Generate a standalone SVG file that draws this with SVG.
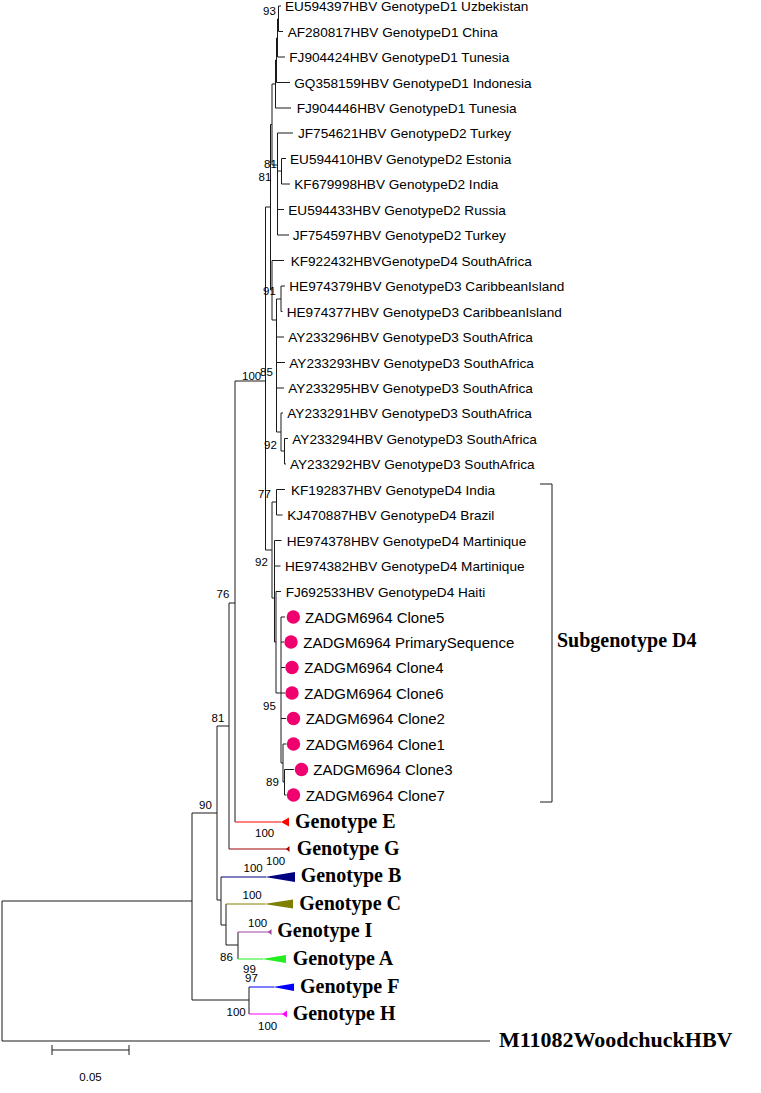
<svg xmlns="http://www.w3.org/2000/svg" width="761" height="1093" viewBox="0 0 761 1093">
<style>
.br{fill:none;stroke:#1a1a1a;stroke-width:1}
.lf{font-family:"Liberation Sans",Arial,sans-serif;font-size:13.6px;fill:#000}
.cl{font-family:"Liberation Sans",Arial,sans-serif;font-size:15px;fill:#000}
.bs{font-family:"Liberation Sans",Arial,sans-serif;font-size:11.5px;fill:#000}
.gt{font-family:"Liberation Serif","Times New Roman",serif;font-size:20px;font-weight:bold;fill:#000}
.dot{fill:#f0006e}
</style>
<rect width="761" height="1093" fill="#fff"/>
<g id="connectors">
<path class="br" d="M2 901V1041M2 901H192M2 1041H490M192 813V1000M192 813H217M192 1000H249M217 726V900M217 726H229M217 900H221M229 603V849M229 603H235M235 381V822M235 381H265.5M221 877V925M221 925H226M226 904V945M226 945H238M238 932V959M249 987V1014"/>
<path class="br" d="M265.5 207V550M265.5 207H270.5M270.5 124.5V290M270.5 124.5H272M272 84V165M272 84H275.5M275.5 60V108M275.5 60H276.5M276.5 38V82.5M276.5 38H277.5M277.5 19V57M277.5 19H278.5M278.5 6V31.5M278.5 6H281M278.5 31.5H283M277.5 57H285M276.5 82.5H290M275.5 108H291"/>
<path class="br" d="M272 165H277.5M277.5 133V235M277.5 133H293M277.5 171H281.5M281.5 158.5V184M281.5 158.5H286M281.5 184H290M277.5 209.5H284M277.5 235H289"/>
<path class="br" d="M270.5 290H272M272 260.5V320M272 260.5H284M272 320H276.5M276.5 299V432M276.5 299H281M281 286V311.5M281 286H285M281 311.5H282.5M276.5 337H284M276.5 362.5H285M276.5 388H284M276.5 432H281M281 413V451M281 413H283M281 451H284.5M284.5 438.5V464M284.5 438.5H288M284.5 464H286"/>
<path class="br" d="M265.5 550H272M272 502V598M272 502H276.5M276.5 489.5V515M276.5 489.5H285M276.5 515H282.5M272 598H274.5M274.5 540.5V642M274.5 540.5H281.5M274.5 566H280.5M274.5 642H276M276 591.5V693M276 591.5H281M276 693H281"/>
<path class="br" d="M281 617V763M281 617H285M281 642H284M281 667.5H285M281 693H285M281 718.5H286M281 763H283M283 744V782M283 744H286.5M283 782H284.5M284.5 769.5V795M284.5 769.5H294M284.5 795H286.5"/>
<path fill="none" stroke="#ff0000" d="M235 822H281"/>
<path fill="none" stroke="#a00000" d="M229 849H287"/>
<path fill="none" stroke="#000080" d="M221 877H266"/>
<path fill="none" stroke="#808000" d="M226 904H265"/>
<path fill="none" stroke="#a040a0" d="M238 932H269"/>
<path fill="none" stroke="#22ee22" d="M238 959H263"/>
<path fill="none" stroke="#0000ff" d="M249 987H274"/>
<path fill="none" stroke="#ff00ff" d="M249 1014H283"/>
<path class="br" d="M540 484H552V802H540"/>
<path class="br" d="M52 1050H129M52 1045V1055M129 1045V1055"/>
</g>
<g id="bootstrap">
<text class="bs" x="263" y="15">93</text>
<text class="bs" x="264" y="168">81</text>
<text class="bs" x="258.5" y="181">81</text>
<text class="bs" x="263" y="295">91</text>
<text class="bs" x="242" y="380">100</text>
<text class="bs" x="260" y="376">85</text>
<text class="bs" x="264" y="449">92</text>
<text class="bs" x="258" y="498">77</text>
<text class="bs" x="255" y="566">92</text>
<text class="bs" x="263" y="710">95</text>
<text class="bs" x="266" y="786">89</text>
<text class="bs" x="216.5" y="598">76</text>
<text class="bs" x="211.5" y="722">81</text>
<text class="bs" x="199" y="809">90</text>
<text class="bs" x="255" y="837">100</text>
<text class="bs" x="266" y="865">100</text>
<text class="bs" x="243.5" y="872">100</text>
<text class="bs" x="242.5" y="899">100</text>
<text class="bs" x="248" y="927">100</text>
<text class="bs" x="220" y="961">86</text>
<text class="bs" x="243" y="973">99</text>
<text class="bs" x="245" y="982">97</text>
<text class="bs" x="226.5" y="1015.5">100</text>
<text class="bs" x="258" y="1030">100</text>
</g>
<g id="n1"><text class="lf" x="285" y="11">EU594397HBV GenotypeD1 Uzbekistan</text></g>
<g id="n2"><text class="lf" x="287.7" y="36.5">AF280817HBV GenotypeD1 China</text></g>
<g id="n3"><text class="lf" x="289.3" y="62">FJ904424HBV GenotypeD1 Tunesia</text></g>
<g id="n4"><text class="lf" x="294.3" y="87.5">GQ358159HBV GenotypeD1 Indonesia</text></g>
<g id="n5"><text class="lf" x="296.7" y="113">FJ904446HBV GenotypeD1 Tunesia</text></g>
<g id="n6"><text class="lf" x="298" y="138">JF754621HBV GenotypeD2 Turkey</text></g>
<g id="n7"><text class="lf" x="290" y="163.5">EU594410HBV GenotypeD2 Estonia</text></g>
<g id="n8"><text class="lf" x="294.3" y="189">KF679998HBV GenotypeD2 India</text></g>
<g id="n9"><text class="lf" x="288.3" y="214.5">EU594433HBV GenotypeD2 Russia</text></g>
<g id="n10"><text class="lf" x="292.7" y="240">JF754597HBV GenotypeD2 Turkey</text></g>
<g id="n11"><text class="lf" x="290.7" y="265.5">KF922432HBVGenotypeD4 SouthAfrica</text></g>
<g id="n12"><text class="lf" x="289.3" y="291">HE974379HBV GenotypeD3 CaribbeanIsland</text></g>
<g id="n13"><text class="lf" x="286.7" y="316.5">HE974377HBV GenotypeD3 CaribbeanIsland</text></g>
<g id="n14"><text class="lf" x="288.3" y="342">AY233296HBV GenotypeD3 SouthAfrica</text></g>
<g id="n15"><text class="lf" x="289.3" y="367.5">AY233293HBV GenotypeD3 SouthAfrica</text></g>
<g id="n16"><text class="lf" x="288.3" y="393">AY233295HBV GenotypeD3 SouthAfrica</text></g>
<g id="n17"><text class="lf" x="287.3" y="418">AY233291HBV GenotypeD3 SouthAfrica</text></g>
<g id="n18"><text class="lf" x="292.3" y="443.5">AY233294HBV GenotypeD3 SouthAfrica</text></g>
<g id="n19"><text class="lf" x="290" y="469">AY233292HBV GenotypeD3 SouthAfrica</text></g>
<g id="n20"><text class="lf" x="291" y="494.5">KF192837HBV GenotypeD4 India</text></g>
<g id="n21"><text class="lf" x="287.3" y="520">KJ470887HBV GenotypeD4 Brazil</text></g>
<g id="n22"><text class="lf" x="286.7" y="545.5">HE974378HBV GenotypeD4 Martinique</text></g>
<g id="n23"><text class="lf" x="285" y="571">HE974382HBV GenotypeD4 Martinique</text></g>
<g id="n24"><text class="lf" x="285.7" y="596.5">FJ692533HBV GenotypeD4 Haiti</text></g>
<g id="n25"><circle class="dot" cx="293.3" cy="617" r="6.7"/><text class="cl" x="305" y="622.5">ZADGM6964 Clone5</text></g>
<g id="n26"><circle class="dot" cx="291" cy="642" r="6.7"/><text class="cl" x="303.3" y="647.5">ZADGM6964 PrimarySequence</text></g>
<g id="n27"><circle class="dot" cx="292" cy="667.5" r="6.7"/><text class="cl" x="304.3" y="673">ZADGM6964 Clone4</text></g>
<g id="n28"><circle class="dot" cx="292" cy="693" r="6.7"/><text class="cl" x="304.3" y="698.5">ZADGM6964 Clone6</text></g>
<g id="n29"><circle class="dot" cx="293.5" cy="718.5" r="6.7"/><text class="cl" x="305.7" y="724">ZADGM6964 Clone2</text></g>
<g id="n30"><circle class="dot" cx="293.5" cy="744" r="6.7"/><text class="cl" x="305.7" y="749.5">ZADGM6964 Clone1</text></g>
<g id="n31"><circle class="dot" cx="301.5" cy="769.5" r="6.7"/><text class="cl" x="313.3" y="775">ZADGM6964 Clone3</text></g>
<g id="n32"><circle class="dot" cx="293.5" cy="795" r="6.7"/><text class="cl" x="305.7" y="800.5">ZADGM6964 Clone7</text></g>
<g id="gE"><polygon fill="#ff0000" points="281,822 289,817.5 289,826.5"/><text class="gt" x="295" y="828">Genotype E</text></g>
<g id="gG"><polygon fill="#a00000" points="286,849 289.5,846 289.5,852"/><text class="gt" x="296.7" y="855">Genotype G</text></g>
<g id="gB"><polygon fill="#000080" points="265,877 295,872 295,882"/><text class="gt" x="300.7" y="882">Genotype B</text></g>
<g id="gC"><polygon fill="#808000" points="264,904 293,899.5 293,908.5"/><text class="gt" x="299.3" y="910">Genotype C</text></g>
<g id="gI"><polygon fill="#a040a0" points="268,932 271.5,929 271.5,935"/><text class="gt" x="277.3" y="937">Genotype I</text></g>
<g id="gA"><polygon fill="#22ee22" points="262,959 286,955 286,963"/><text class="gt" x="292.7" y="965">Genotype A</text></g>
<g id="gF"><polygon fill="#0000ff" points="273,987 294,983.5 294,991"/><text class="gt" x="300" y="993">Genotype F</text></g>
<g id="gH"><polygon fill="#ff00ff" points="282,1014 287,1010.5 287,1017.5"/><text class="gt" x="292.7" y="1020">Genotype H</text></g>
<g id="outgroup"><text class="gt" x="499" y="1047" style="font-size:22px">M11082WoodchuckHBV</text></g>
<g id="subgenotype"><text class="gt" x="557" y="647">Subgenotype D4</text></g>
<g id="scale"><text class="bs" x="90.5" y="1081" text-anchor="middle">0.05</text></g>
</svg>
